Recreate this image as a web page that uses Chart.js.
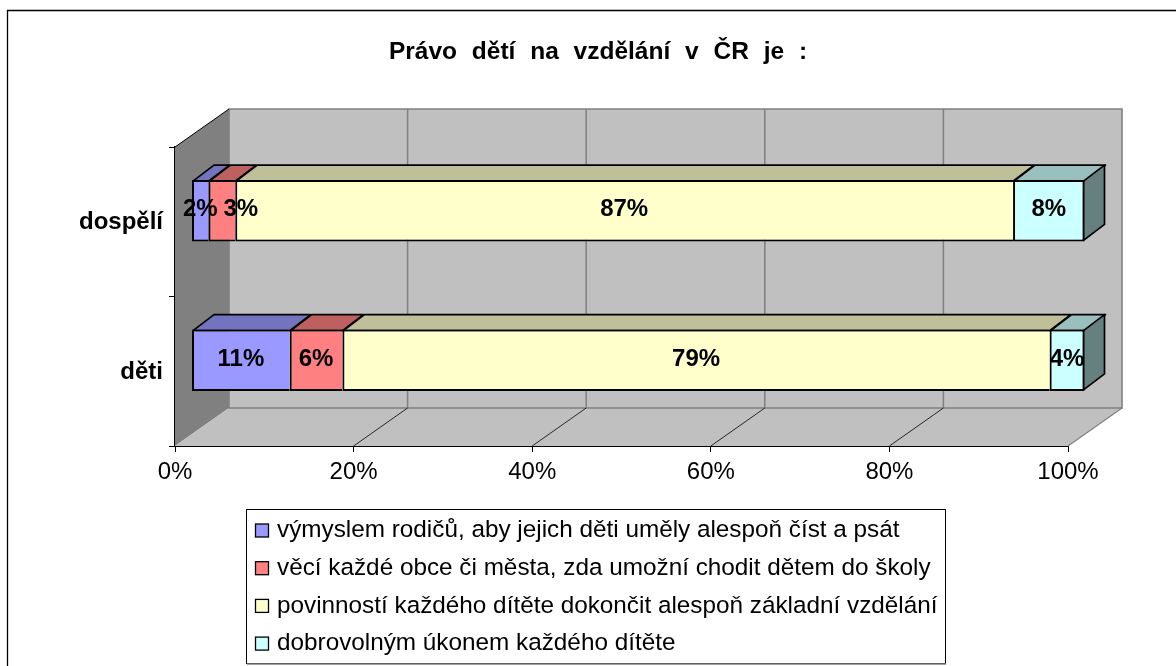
<!DOCTYPE html>
<html>
<head>
<meta charset="utf-8">
<title>Právo dětí na vzdělání v ČR</title>
<script src="https://cdn.jsdelivr.net/npm/chart.js@4"></script>
<style>
    html, body { margin: 0; padding: 0; background: #fff; }
    #wrap { width: 1176px; height: 666px; }
</style>
</head>
<body>
<div id="wrap"><canvas id="chart" width="1176" height="666"></canvas></div>
<script>
var titleText = "Právo dětí na vzdělání v ČR je :";
var categories = ["dospělí", "děti"];
var seriesNames = [
    "výmyslem rodičů, aby jejich děti uměly alespoň číst a psát",
    "věcí každé obce či města, zda umožní chodit dětem do školy",
    "povinností každého dítěte dokončit alespoň základní vzdělání",
    "dobrovolným úkonem každého dítěte"
];
var rodicu = [1.9, 11];
var obce = [3, 5.9];
var povinnost = [87.1, 79.2];
var dobrovolne = [8, 3.9];
var seriesValues = [rodicu, obce, povinnost, dobrovolne];
var labelText = [["2%", "11%"], ["3%", "6%"], ["87%", "79%"], ["8%", "4%"]];

var frontColors = ["#9999FF", "#FF8080", "#FFFFCC", "#CCFFFF"];
var topColors = ["#7373BF", "#BF6060", "#BFBF99", "#99BFBF"];
var sideColor = "#668080";

// depth of the walls and of the bars, offset of the bars on the floor
var wallDx = 54, wallDy = -38;
var barDx = 21, barDy = -16;
var shiftX = 16.5, shiftY = -11;

var datasets = seriesValues.map(function (values, i) {
    return {
        label: seriesNames[i],
        data: values,
        backgroundColor: frontColors[i],
        borderColor: "#000",
        borderWidth: { top: 2, bottom: 2, left: 2, right: i == 3 ? 2 : 0 },
        borderSkipped: false,
        inflateAmount: 0,
        clip: false,
        barPercentage: 0.41,
        categoryPercentage: 1
    };
});

function poly(ctx, pts, fill, stroke, width) {
    ctx.beginPath();
    ctx.moveTo(pts[0][0], pts[0][1]);
    for (var i = 1; i < pts.length; i++) ctx.lineTo(pts[i][0], pts[i][1]);
    ctx.closePath();
    ctx.fillStyle = fill;
    ctx.fill();
    if (stroke) {
        ctx.strokeStyle = stroke;
        ctx.lineWidth = width;
        ctx.stroke();
    }
}

var frame = {
    id: "frame",
    beforeDraw: function (chart) {
        var ctx = chart.ctx;
        ctx.save();
        ctx.fillStyle = "#fff";
        ctx.fillRect(0, 0, chart.width, chart.height);
        // only the top and the left edge of the chart frame are in the picture
        ctx.strokeStyle = "#000";
        ctx.lineWidth = 1.3;
        ctx.beginPath();
        ctx.moveTo(7.5, chart.height);
        ctx.lineTo(7.5, 10.5);
        ctx.lineTo(chart.width, 10.5);
        ctx.stroke();
        ctx.font = "bold 24.5px 'Liberation Sans'";
        ctx.wordSpacing = "8px";
        ctx.fillStyle = "#000";
        ctx.textAlign = "center";
        ctx.textBaseline = "middle";
        ctx.fillText(titleText, 598, 52);
        ctx.restore();
    }
};

var walls = {
    id: "walls",
    beforeDatasetsDraw: function (chart) {
        var ctx = chart.ctx, a = chart.chartArea, x = chart.scales.x;
        ctx.save();
        // side wall, floor, back wall
        poly(ctx, [[a.left, a.top], [a.left + wallDx, a.top + wallDy],
            [a.left + wallDx, a.bottom + wallDy], [a.left, a.bottom]], "#808080");
        poly(ctx, [[a.left, a.bottom], [a.left + wallDx, a.bottom + wallDy],
            [a.right + wallDx, a.bottom + wallDy], [a.right, a.bottom]], "#C0C0C0");
        poly(ctx, [[a.left + wallDx, a.top + wallDy], [a.right + wallDx, a.top + wallDy],
            [a.right + wallDx, a.bottom + wallDy], [a.left + wallDx, a.bottom + wallDy]], "#C0C0C0", "#808080", 1.6);
        x.ticks.forEach(function (t) {
            var px = x.getPixelForValue(t.value);
            if (t.value > 0 && t.value < 100) {
                ctx.strokeStyle = "#808080";
                ctx.lineWidth = 1.5;
                ctx.beginPath();
                ctx.moveTo(px + wallDx, a.top + wallDy);
                ctx.lineTo(px + wallDx, a.bottom + wallDy);
                ctx.stroke();
                ctx.strokeStyle = "#000";
                ctx.lineWidth = 0.8;
                ctx.beginPath();
                ctx.moveTo(px, a.bottom);
                ctx.lineTo(px + wallDx, a.bottom + wallDy);
                ctx.stroke();
            }
        });
        ctx.strokeStyle = "#808080";
        ctx.lineWidth = 1.2;
        ctx.beginPath();
        ctx.moveTo(a.right, a.bottom);
        ctx.lineTo(a.right + wallDx, a.bottom + wallDy);
        ctx.stroke();
        ctx.strokeStyle = "#000";
        ctx.lineWidth = 1;
        ctx.beginPath();
        ctx.moveTo(a.left, a.top);
        ctx.lineTo(a.left + wallDx, a.top + wallDy);
        ctx.stroke();
        ctx.restore();

        // everything of the bars sits a bit off the front plane
        ctx.save();
        ctx.translate(shiftX, shiftY);
        ctx.lineJoin = "round";
        chart.data.datasets.forEach(function (ds, i) {
            chart.getDatasetMeta(i).data.forEach(function (bar) {
                var top = bar.y - bar.height / 2 + 1;
                var bottom = bar.y + bar.height / 2 - 1;
                poly(ctx, [[bar.base + 1, top], [bar.base + 1 + barDx, top + barDy],
                    [bar.x + barDx, top + barDy], [bar.x, top]], topColors[i], "#000", 1.7);
                if (i == chart.data.datasets.length - 1) {
                    poly(ctx, [[bar.x - 1, top], [bar.x - 1 + barDx, top + barDy],
                        [bar.x - 1 + barDx, bottom + barDy], [bar.x - 1, bottom]], sideColor, "#000", 1.7);
                }
            });
        });
    },
    afterDatasetsDraw: function (chart) {
        var ctx = chart.ctx;
        // value labels, still inside the shifted frame
        ctx.font = "bold 24px 'Liberation Sans'";
        ctx.fillStyle = "#000";
        ctx.textAlign = "center";
        ctx.textBaseline = "middle";
        chart.data.datasets.forEach(function (ds, i) {
            chart.getDatasetMeta(i).data.forEach(function (bar, j) {
                var cx = (bar.base + bar.x) / 2;
                // the "3%" label is pushed right so it clears the "2%" one
                if (i == 1 && j == 0) cx += 19;
                ctx.fillText(labelText[i][j], cx, bar.y - 1);
            });
        });
        ctx.restore();
    }
};

var legendBox = {
    id: "legendBox",
    afterDraw: function (chart) {
        var ctx = chart.ctx;
        ctx.save();
        ctx.fillStyle = "#fff";
        ctx.strokeStyle = "#000";
        ctx.lineWidth = 1;
        ctx.fillRect(246.5, 509.5, 699, 154);
        ctx.strokeRect(246.5, 509.5, 699, 154);
        ctx.strokeStyle = "#808080";
        ctx.lineWidth = 1.5;
        ctx.beginPath();
        ctx.moveTo(247, 664);
        ctx.lineTo(946, 664);
        ctx.stroke();
        ctx.strokeStyle = "#000";
        ctx.font = "24.3px 'Liberation Sans'";
        ctx.textAlign = "left";
        ctx.textBaseline = "middle";
        chart.data.datasets.forEach(function (ds, i) {
            var cy = 530.5 + i * 37.7;
            ctx.fillStyle = ds.backgroundColor;
            ctx.lineWidth = 1.3;
            ctx.fillRect(255.5, cy - 6.5, 13, 13);
            ctx.strokeRect(255.5, cy - 6.5, 13, 13);
            ctx.fillStyle = "#000";
            ctx.fillText(ds.label, 277, cy);
        });
        ctx.restore();
    }
};

var chart = new Chart(document.getElementById("chart").getContext("2d"), {
    type: "bar",
    data: { labels: categories, datasets: datasets },
    plugins: [frame, walls, legendBox],
    options: {
        indexAxis: "y",
        responsive: false,
        animation: false,
        events: [],
        layout: { padding: { left: 20, right: 108, top: 147, bottom: 0 } },
        plugins: {
            legend: { display: false },
            tooltip: { enabled: false }
        },
        scales: {
            x: {
                stacked: true,
                min: 0,
                max: 100,
                afterFit: function (s) { s.height = 220; },
                grid: { drawOnChartArea: false, drawTicks: true, tickLength: 6, color: "#000" },
                border: { color: "#000", width: 1 },
                ticks: {
                    stepSize: 20,
                    maxRotation: 0,
                    padding: 6,
                    color: "#000",
                    font: { family: "'Liberation Sans'", size: 24 },
                    callback: function (v) { return v + "%"; }
                }
            },
            y: {
                stacked: true,
                afterFit: function (s) { s.width = 155; },
                grid: { drawOnChartArea: false, drawTicks: true, tickLength: 6, color: "#000" },
                border: { color: "#000", width: 1.3 },
                ticks: {
                    padding: 6,
                    labelOffset: 1,
                    color: "#000",
                    font: { family: "'Liberation Sans'", size: 24, weight: "bold" }
                }
            }
        }
    }
});
</script>
</body>
</html>
